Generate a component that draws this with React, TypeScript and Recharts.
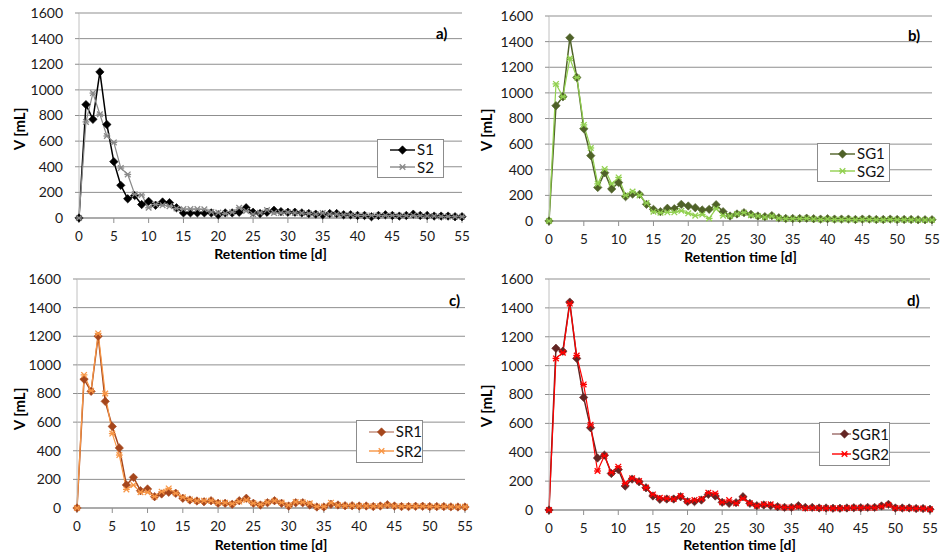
import { LineChart, Line, XAxis, YAxis, CartesianGrid } from "recharts";

// retention time in days
const days = [
  0, 1, 2, 3, 4, 5, 6, 7, 8, 9, 10, 11, 12, 13, 14, 15, 16, 17, 18, 19, 20, 21, 22, 23, 24, 25, 26, 27,
  28, 29, 30, 31, 32, 33, 34, 35, 36, 37, 38, 39, 40, 41, 42, 43, 44, 45, 46, 47, 48, 49, 50, 51, 52, 53,
  54, 55,
];

const s1 = [0, 885, 770, 1140, 730, 440, 255, 150, 175, 105, 130, 100, 125, 120, 80, 40, 40, 40, 40, 40, 25, 40, 40, 45, 80, 45, 35, 45, 60, 50, 45, 45, 40, 35, 30, 25, 35, 35, 25, 25, 20, 20, 10, 20, 25, 20, 15, 20, 30, 20, 20, 15, 15, 15, 10, 10];
const s2 = [0, 750, 975, 810, 640, 590, 390, 340, 185, 180, 80, 105, 100, 92, 75, 70, 70, 70, 68, 47, 42, 35, 45, 80, 55, 30, 40, 62, 40, 40, 45, 40, 38, 35, 30, 38, 30, 30, 25, 25, 20, 20, 20, 20, 20, 20, 18, 18, 20, 18, 15, 15, 12, 12, 10, 10];

const sg1 = [0, 900, 970, 1430, 1120, 720, 510, 262, 377, 250, 300, 190, 210, 208, 130, 91, 73, 99, 96, 130, 117, 104, 86, 91, 127, 73, 39, 55, 65, 52, 39, 34, 42, 25, 20, 20, 20, 22, 18, 15, 18, 15, 15, 15, 12, 15, 15, 12, 12, 15, 12, 12, 12, 10, 10, 10];
const sg2 = [0, 1070, 970, 1270, 1120, 750, 570, 290, 405, 290, 340, 200, 230, 200, 140, 73, 65, 68, 68, 80, 60, 42, 50, 20, 96, 42, 39, 55, 65, 45, 39, 30, 38, 22, 18, 18, 18, 20, 15, 12, 15, 12, 12, 12, 10, 12, 12, 10, 10, 12, 10, 10, 10, 8, 8, 8];

const sr1 = [0, 900, 815, 1200, 745, 570, 420, 161, 214, 121, 133, 79, 98, 110, 103, 68, 56, 49, 44, 51, 33, 33, 26, 51, 68, 33, 21, 37, 51, 33, 14, 37, 37, 21, 7, 7, 26, 21, 16, 16, 14, 14, 10, 14, 23, 14, 10, 10, 12, 12, 10, 10, 10, 8, 7, 7];
const sr2 = [0, 930, 820, 1220, 800, 520, 370, 130, 160, 110, 110, 80, 114, 137, 103, 75, 60, 50, 51, 51, 37, 37, 30, 45, 56, 33, 25, 40, 50, 38, 20, 42, 40, 33, 10, 10, 37, 20, 16, 16, 14, 14, 12, 14, 20, 14, 12, 12, 12, 12, 10, 10, 10, 8, 8, 8];

const sgr1 = [0, 1120, 1100, 1440, 1050, 780, 570, 360, 380, 253, 280, 166, 214, 196, 154, 97, 74, 76, 76, 92, 58, 58, 69, 108, 97, 53, 46, 51, 92, 46, 30, 35, 30, 23, 18, 18, 30, 18, 18, 14, 14, 12, 12, 14, 16, 16, 18, 18, 28, 39, 14, 14, 14, 10, 10, 5];
const sgr2 = [0, 1050, 1090, 1430, 1070, 870, 590, 270, 375, 260, 300, 185, 220, 200, 155, 108, 85, 80, 76, 97, 62, 69, 76, 120, 115, 53, 69, 46, 80, 46, 30, 39, 39, 23, 18, 18, 23, 12, 14, 14, 12, 12, 12, 14, 16, 16, 16, 16, 25, 35, 14, 12, 12, 10, 10, 5];

const xTicks = [0, 5, 10, 15, 20, 25, 30, 35, 40, 45, 50, 55];
const yTicks = [0, 200, 400, 600, 800, 1000, 1200, 1400, 1600];

const FONT = "Lato, 'Open Sans', sans-serif";
const GRID = "#8f8f8f";

const diamond = (color: string) => (props: any) => {
  const { cx, cy, index } = props;
  if (cx == null || cy == null) return <g key={index} />;
  const r = 4.2;
  return (
    <polygon
      key={index}
      points={`${cx},${cy - r} ${cx + r},${cy} ${cx},${cy + r} ${cx - r},${cy}`}
      fill={color}
      stroke={color}
      strokeWidth={0.6}
    />
  );
};

const star = (color: string) => (props: any) => {
  const { cx, cy, index } = props;
  if (cx == null || cy == null) return <g key={index} />;
  const r = 2.8;
  return (
    <g key={index} stroke={color} strokeWidth={1.3}>
      <line x1={cx - r} y1={cy - r} x2={cx + r} y2={cy + r} />
      <line x1={cx - r} y1={cy + r} x2={cx + r} y2={cy - r} />
      <line x1={cx - r - 0.6} y1={cy} x2={cx + r + 0.6} y2={cy} />
    </g>
  );
};

const panels = [
  {
    tag: "a)", names: ["S1", "S2"], v1: s1, v2: s2, c1: "#000000", c2: "#8a8a8a", l1: "#000000", l2: "#8a8a8a",
    boxLeft: 0, boxTop: 0, boxW: 480, plotLeft: 79, plotRight: 462, plotTop: 13, plotBottom: 218,
    yLabel: [19, 129], titleOffset: 7, tagPos: [436, 25], legend: [377, 139, 67, 39],
  },
  {
    tag: "b)", names: ["SG1", "SG2"], v1: sg1, v2: sg2, c1: "#4f6228", c2: "#92d050", l1: "#4f6228", l2: "#92d050",
    boxLeft: 470, boxTop: 0, boxW: 474, plotLeft: 549, plotRight: 932, plotTop: 16, plotBottom: 221,
    yLabel: [486, 130], titleOffset: 7, tagPos: [908, 27], legend: [817, 143, 73, 39],
  },
  {
    tag: "c)", names: ["SR1", "SR2"], v1: sr1, v2: sr2, c1: "#a5461c", c2: "#f79646", l1: "#c08a78", l2: "#f79646",
    boxLeft: 0, boxTop: 265, boxW: 480, plotLeft: 77, plotRight: 465, plotTop: 279, plotBottom: 508,
    yLabel: [19, 409], titleOffset: 6, tagPos: [449, 292], legend: [356, 420, 67, 43],
  },
  {
    tag: "d)", names: ["SGR1", "SGR2"], v1: sgr1, v2: sgr2, c1: "#632523", c2: "#ff0000", l1: "#9a6a68", l2: "#ff0000",
    boxLeft: 470, boxTop: 265, boxW: 474, plotLeft: 549, plotRight: 930, plotTop: 279, plotBottom: 510,
    yLabel: [486, 406], titleOffset: 8, tagPos: [907, 292], legend: [819, 422, 71, 44],
  },
];

type PanelDef = (typeof panels)[number];

// rotated y-axis title, placed at fixed chart coordinates
function YTitle({ px, py }: { px: number; py: number }) {
  return (
    <text
      x={px}
      y={py}
      transform={`rotate(-90 ${px} ${py})`}
      textAnchor="middle"
      dominantBaseline="central"
      fontSize={15}
      fontWeight={700}
      fill="#000"
      fontFamily={FONT}
    >
      V [mL]
    </text>
  );
}

function Legend2({ p }: { p: PanelDef }) {
  const [x, y, w, h] = p.legend;
  const row = (name: string, color: string, lineColor: string, isStar: boolean) => (
    <div style={{ display: "flex", alignItems: "center", height: (h - 4) / 2 }}>
      <svg width={27} height={12} style={{ marginLeft: 11 }}>
        <line x1={1} y1={6} x2={26} y2={6} stroke={lineColor} strokeWidth={1.4} />
        {isStar ? star(color)({ cx: 13.5, cy: 6, index: 0 }) : diamond(color)({ cx: 13.5, cy: 6, index: 0 })}
      </svg>
      <span style={{ fontSize: 15, marginLeft: 1, color: "#111", lineHeight: "15px" }}>{name}</span>
    </div>
  );
  return (
    <div
      style={{
        position: "absolute", left: x, top: y, width: w, height: h, boxSizing: "border-box",
        border: "1px solid #8c8c8c", background: "#fff", paddingTop: 1, fontFamily: FONT,
      }}
    >
      {row(p.names[0], p.c1, p.l1, false)}
      {row(p.names[1], p.c2, p.l2, true)}
    </div>
  );
}

function Panel({ p }: { p: PanelDef }) {
  const rows = days.map((d, i) => ({ day: d, v1: p.v1[i], v2: p.v2[i] }));
  const axisH = 48;
  const H = p.plotBottom - p.boxTop + axisH;
  const lx = p.yLabel[0] - p.boxLeft;
  const ly = p.yLabel[1] - p.boxTop;
  return (
    <>
      <div style={{ position: "absolute", left: p.boxLeft, top: p.boxTop }}>
        <LineChart
          width={p.boxW}
          height={H}
          data={rows}
          margin={{ top: p.plotTop - p.boxTop, right: p.boxLeft + p.boxW - p.plotRight, left: 0, bottom: 0 }}
          style={{ fontFamily: FONT }}
        >
          <CartesianGrid vertical={false} stroke={GRID} strokeWidth={1} />
          <XAxis
            dataKey="day"
            type="number"
            domain={[0, 55]}
            ticks={xTicks}
            interval={0}
            height={axisH}
            stroke={GRID}
            tickSize={5}
            tickMargin={8}
            tick={{ fill: "#1a1a1a", fontSize: 13.5 }}
            label={{ value: "Retention time [d]", position: "insideBottom", offset: p.titleOffset, fill: "#000", fontSize: 14, fontWeight: 700 }}
          />
          <YAxis
            type="number"
            domain={[0, 1600]}
            ticks={yTicks}
            interval={0}
            width={p.plotLeft - p.boxLeft}
            stroke="#c0c0c0"
            tickSize={4}
            tickLine={{ stroke: GRID }}
            tickMargin={12}
            tick={{ fill: "#1a1a1a", fontSize: 14 }}
            label={<YTitle px={lx} py={ly} />}
          />
          <Line type="linear" dataKey="v1" stroke={p.c1} strokeWidth={1.5} dot={diamond(p.c1)} activeDot={false} isAnimationActive={false} />
          <Line type="linear" dataKey="v2" stroke={p.c2} strokeWidth={1.2} dot={star(p.c2)} activeDot={false} isAnimationActive={false} />
        </LineChart>
      </div>
      <div
        style={{
          position: "absolute", left: p.tagPos[0], top: p.tagPos[1], fontFamily: FONT,
          fontWeight: 700, fontSize: 15, color: "#000", lineHeight: "17px",
        }}
      >
        {p.tag}
      </div>
      <Legend2 p={p} />
    </>
  );
}

export default function App() {
  return (
    <div
      style={{
        position: "absolute", left: 0, top: 0, width: 944, height: 554,
        background: "#fff", overflow: "hidden", fontFamily: FONT,
      }}
    >
      {panels.map((p) => (
        <Panel key={p.tag} p={p} />
      ))}
    </div>
  );
}
